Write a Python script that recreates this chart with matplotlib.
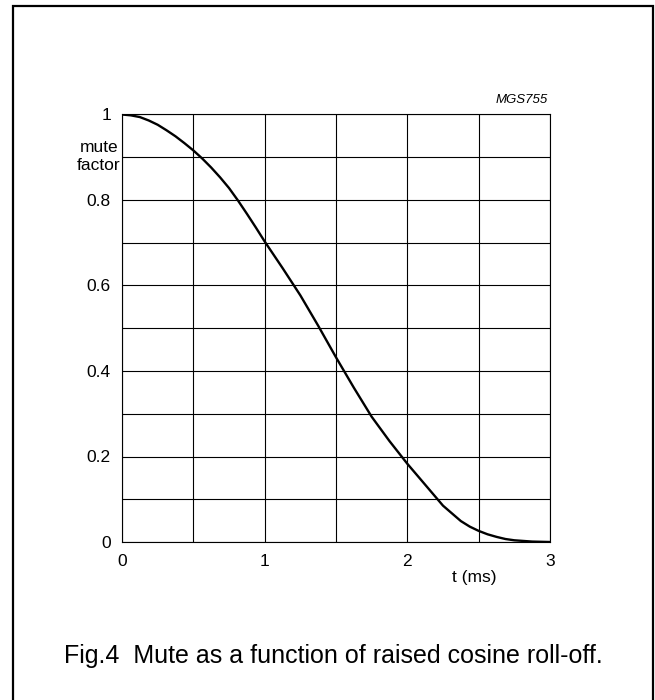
import matplotlib.pyplot as plt
from matplotlib.patches import Rectangle
from matplotlib.ticker import MultipleLocator

plt.rcParams['font.family'] = ['Liberation Sans', 'DejaVu Sans']

# values
t_ms = [0, 0.0625, 0.125, 0.1875, 0.25, 0.3125, 0.375, 0.4375, 0.5, 0.5625, 0.625, 0.6875,
        0.75, 0.8125, 0.875, 0.9375, 1.0, 1.125, 1.25, 1.375, 1.5, 1.625, 1.75, 1.875,
        2.0, 2.125, 2.25, 2.375, 2.4375, 2.5, 2.5625, 2.625, 2.6875, 2.75, 2.875, 3.0]
mute = [1.0, 0.998, 0.994, 0.986, 0.976, 0.963, 0.949, 0.933, 0.916, 0.897, 0.876, 0.853,
        0.828, 0.799, 0.768, 0.736, 0.703, 0.641, 0.577, 0.506, 0.432, 0.361, 0.293, 0.236,
        0.183, 0.134, 0.085, 0.049, 0.036, 0.026, 0.018, 0.012, 0.007, 0.004, 0.001, 0.0]

x_ticks = [0, 1, 2, 3]
x_labels = ['0', '1', '2', '3']
y_ticks = [0, 0.2, 0.4, 0.6, 0.8, 1.0]
y_labels = ['0', '0.2', '0.4', '0.6', '0.8', '1']

W, H = 655, 700
fig = plt.figure(figsize=(W / 100, H / 100), dpi=100)

# outer frame (bottom edge runs off the page)
fig.patches.append(Rectangle((13 / W, -0.05), 640 / W, 1.05 - 6 / H,
                             transform=fig.transFigure, fill=False,
                             edgecolor='black', linewidth=1.6))

ax = fig.add_axes([122 / W, 1 - 542 / H, 428 / W, 427.5 / H])
ax.plot(t_ms, mute, color='black', linewidth=1.7, solid_joinstyle='round',
        solid_capstyle='round', zorder=3)

ax.set_xlim(0, 3)
ax.set_ylim(0, 1)
ax.set_xticks(x_ticks)
ax.set_xticklabels(x_labels)
ax.set_yticks(y_ticks)
ax.set_yticklabels(y_labels)
ax.xaxis.set_minor_locator(MultipleLocator(0.5))
ax.yaxis.set_minor_locator(MultipleLocator(0.1))
ax.grid(True, which='both', color='black', linewidth=0.8)
ax.tick_params(which='both', length=0, labelsize=12.5)
ax.tick_params(axis='x', pad=9)
ax.tick_params(axis='y', pad=8)
for s in ax.spines.values():
    s.set_linewidth(0.8)

ax.text(2.47, -0.083, 't (ms)', fontsize=12.5, ha='center', va='center',
        transform=ax.transData, clip_on=False)
fig.text(99 / W, 1 - 157 / H, 'mute\nfactor', fontsize=12.5, ha='center',
         va='center', multialignment='center', linespacing=1.25)
fig.text(548 / W, 1 - 100 / H, 'MGS755', fontsize=9.5, style='italic',
         ha='right', va='center')

fig.text(333 / W, 1 - 656 / H, 'Fig.4  Mute as a function of raised cosine roll-off.',
         fontsize=18, ha='center', va='center')

fig.savefig('out.png', dpi=100)
